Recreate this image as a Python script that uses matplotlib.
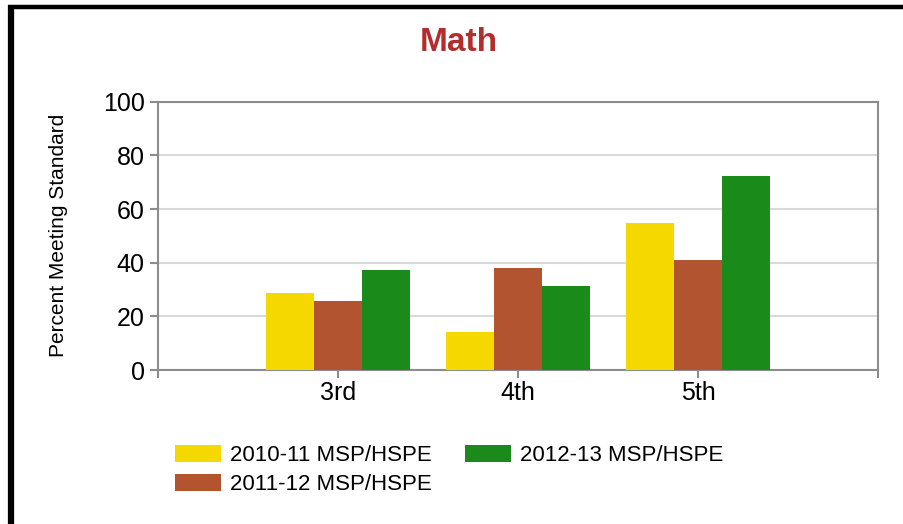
import matplotlib
matplotlib.use('Agg')
import matplotlib.pyplot as plt
from matplotlib.lines import Line2D
import numpy as np

# data
grades = ['3rd', '4th', '5th']
series_names = ['2010-11 MSP/HSPE', '2011-12 MSP/HSPE', '2012-13 MSP/HSPE']
vals_2010 = [28.6, 14.0, 54.8]
vals_2011 = [25.8, 38.1, 40.9]
vals_2012 = [37.3, 31.4, 72.2]
colors = ['#F5D800', '#B25430', '#1A8A1A']
yticks = [0, 20, 40, 60, 80, 100]

plt.rcParams['font.family'] = ['Liberation Sans', 'DejaVu Sans']

fig = plt.figure(figsize=(9.04, 5.24), dpi=100)
ax = fig.add_axes([158 / 904, 1 - 370 / 524, 720 / 904, (370 - 101.7) / 524])

x = np.arange(1, len(grades) + 1)
w = 0.8 / 3
for i, (vals, name) in enumerate(zip([vals_2010, vals_2011, vals_2012], series_names)):
    ax.bar(x + (i - 1) * w, vals, width=w, color=colors[i], label=name, zorder=3)

ax.set_xlim(0, len(grades) + 1)
ax.set_ylim(0, 100)
ax.set_yticks(yticks)
ax.set_xticks(np.arange(0, len(grades) + 2))
ax.set_xticklabels([''] + grades + [''])
ax.yaxis.grid(True, color='#d9d9d9', linewidth=1.5, zorder=0)
for s in ax.spines.values():
    s.set_color('#8c8c8c')
    s.set_linewidth(1.5)
ax.tick_params(axis='both', colors='#8c8c8c', width=1.5, length=6, labelcolor='black', labelsize=18)
ax.tick_params(axis='x', pad=2)
ax.set_ylabel('Percent Meeting Standard', fontsize=15, labelpad=25)

fig.text(459 / 904, 1 - 43 / 524, 'Math', ha='center', va='center', fontsize=24,
         fontweight='bold', color='#B22D2D', family=['Liberation Sans Narrow', 'Liberation Sans'])

ax.legend(loc='upper left', bbox_to_anchor=(175 / 904, 1 - 445 / 524), bbox_transform=fig.transFigure,
          ncol=2, frameon=False, fontsize=16, handlelength=2.07, handleheight=0.79,
          handletextpad=0.4, columnspacing=1.5, labelspacing=0.34, borderpad=0, borderaxespad=0)

# black frame on the left and top edges
fig.add_artist(Line2D([10.5 / 904, 10.5 / 904], [0, 1 - 5 / 524], transform=fig.transFigure,
                      color='black', linewidth=4.5, solid_capstyle='butt'))
fig.add_artist(Line2D([8 / 904, 1], [1 - 7 / 524, 1 - 7 / 524], transform=fig.transFigure,
                      color='black', linewidth=3.2, solid_capstyle='butt'))

fig.savefig('out.png', dpi=100, facecolor='white')
